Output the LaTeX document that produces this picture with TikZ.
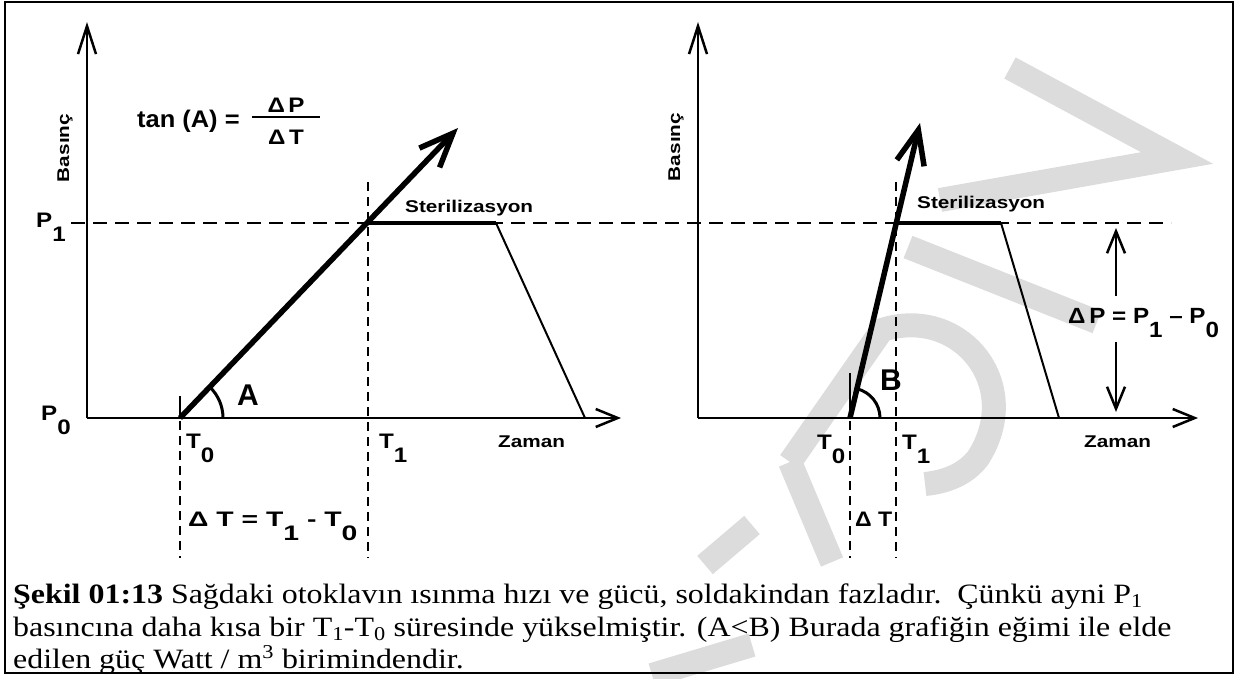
\documentclass[tikz,border=0pt]{standalone}
\usepackage{fontspec}
\setmainfont{Liberation Serif}[FakeStretch=1.14]
\newfontfamily\sansS{Liberation Sans}[FakeStretch=1.22]
\newfontfamily\sansB{Liberation Sans}[FakeStretch=1.15]
\newfontfamily\sansW{Liberation Sans}[FakeStretch=1.35]
\newfontfamily\sansF{Liberation Sans}[FakeStretch=1.06]
\newfontfamily\sansP{Liberation Sans}[FakeStretch=1.1]
\newfontfamily\sansN{Liberation Sans}
\usetikzlibrary{arrows.meta}
\definecolor{wm}{HTML}{DCDCDC}
\newcommand\lsub[1]{\raisebox{-0.68em}{#1}}
\begin{document}
\begin{tikzpicture}[x=1pt,y=-1pt,
  lab/.style={inner sep=0pt,anchor=base west},
  smalllab/.style={lab,font=\sansS\bfseries\fontsize{17}{17}\selectfont},
  biglab/.style={lab,font=\sansB\bfseries\fontsize{21}{21}\selectfont},
  anglab/.style={lab,font=\sansN\bfseries\fontsize{30}{30}\selectfont},
  axis/.style={line width=2.5pt},
  yarrow/.style={-{Straight Barb[length=28pt,width=18pt]}},
  xarrow/.style={-{Straight Barb[length=22pt,width=18pt]}},
  rise/.style={line width=5.5pt,-{Straight Barb[length=34pt,width=28pt]}},
  plateau/.style={line width=3.5pt},
  fall/.style={line width=2pt},
  pdash/.style={line width=1.4pt,dash pattern=on 14pt off 8pt},
  vdash/.style={line width=1.3pt,dash pattern=on 9pt off 6pt},
  tick/.style={line width=1.3pt},
  angarc/.style={line width=3pt},
  band/.style={wm,line width=24pt},
  capt/.style={inner sep=0pt,anchor=base west,font=\fontsize{28}{33}\selectfont}]
\useasboundingbox (0,0) rectangle (1238,679);
% watermark
\draw[band] (1010,68) -- (1177,158) -- (940,200);
\draw[band] (908,247) -- (1097,322);
\draw[band] (790,462) -- (882,330) .. controls (960,305) and (1025,385) .. (978,458) .. controls (965,475) and (945,482) .. (925,484);
\draw[band] (790,462) -- (832,562);
\draw[band] (705,565) -- (752,525);
\draw[band] (652,675) -- (752,645);
% frame
\draw[line width=2pt] (5,2) rectangle (1233,673);
% coordinates
\coordinate (OL) at (87,418);
\coordinate (YL) at (87,22);
\coordinate (XL) at (621,418);
\coordinate (OR) at (698,418);
\coordinate (YR) at (698,22);
\coordinate (XR) at (1198,418);
\coordinate (T0L) at (180,418);
\coordinate (T1L) at (368,223);
\coordinate (EL) at (496,223);
\coordinate (FL) at (585,418);
\coordinate (TipL) at (458,128);
\coordinate (T0R) at (850,418);
\coordinate (T1R) at (896,223);
\coordinate (ER) at (1001,223);
\coordinate (FR) at (1059,418);
\coordinate (TipR) at (920,123);
\coordinate (DashS) at (71,223);
\coordinate (DashE) at (1171,223);
% P1 dashed line
\draw[pdash] (DashS) -- (DashE);
% vertical dashed lines
\draw[vdash] (368,182) -- (368,558);
\draw[tick] (180,396) -- (T0L);
\draw[vdash] (180,421) -- (180,558);
\draw[vdash] (896,182) -- (896,558);
\draw[tick] (850,373) -- (T0R);
\draw[vdash] (850,421) -- (850,558);
% axes
\draw[axis,yarrow] (OL) -- (YL);
\draw[axis,xarrow] (OL) -- (XL);
\draw[axis,yarrow] (OR) -- (YR);
\draw[axis,xarrow] (OR) -- (XR);
% curves
\draw[plateau] (T1L) -- (EL);
\draw[fall] (EL) -- (FL);
\draw[plateau] (T1R) -- (ER);
\draw[fall] (ER) -- (FR);
\draw[rise] (T0L) -- (TipL);
\draw[rise] (T0R) -- (TipR);
% angle arcs
\draw[angarc] (223,418) arc[start angle=0,end angle=-46,radius=43];
\draw[angarc] (880,418) arc[start angle=0,end angle=-77,radius=30];
% delta P arrows
\coordinate (DPa) at (1116,296);
\coordinate (DPaT) at (1116,228);
\coordinate (DPb) at (1116,342);
\coordinate (DPbT) at (1116,412);
\draw[axis,xarrow] (DPa) -- (DPaT);
\draw[axis,xarrow] (DPb) -- (DPbT);
% labels left
\node[smalllab,anchor=center,rotate=90] (basL) at (65,148) {Basınç};
\node[lab,font=\sansF\bfseries\fontsize{24}{24}\selectfont] (tanA) at (137,128) {tan (A) =};
\coordinate (barS) at (252,117);
\coordinate (barE) at (320,117);
\draw[line width=2pt] (barS) -- (barE);
\node[biglab,anchor=base] (dPf) at (286,113) {Δ\,P};
\node[biglab,anchor=base] (dTf) at (286,145) {Δ\,T};
\node[biglab] (P1L) at (36,227) {P\lsub{1}};
\node[biglab] (P0L) at (41,420) {P\lsub{0}};
\node[biglab] (T0Ll) at (186,448) {T\lsub{0}};
\node[biglab] (T1Ll) at (379,448) {T\lsub{1}};
\node[anglab] (AL) at (237,405) {A};
\node[smalllab] (sterL) at (405,212) {Sterilizasyon};
\node[smalllab] (zamL) at (498,447) {Zaman};
\node[biglab,font=\sansW\bfseries\fontsize{21}{21}\selectfont] (dTL) at (188,526) {Δ T = T\lsub{1} - T\lsub{0}};
% labels right
\node[smalllab,anchor=center,rotate=90] (basR) at (676,147) {Basınç};
\node[smalllab] (sterR) at (917,208) {Sterilizasyon};
\node[smalllab] (zamR) at (1084,447) {Zaman};
\node[biglab] (T0Rl) at (817,449) {T\lsub{0}};
\node[biglab] (T1Rl) at (902,449) {T\lsub{1}};
\node[anglab] (BR) at (880,390) {B};
\node[biglab,font=\sansP\bfseries\fontsize{21}{21}\selectfont] (dTR) at (855,526) {Δ T};
\node[lab,font=\sansP\bfseries\fontsize{22}{22}\selectfont] (dPR) at (1068,323) {Δ\,P = P\lsub{1} – P\lsub{0}};
% caption
\node[capt] (c1) at (13,603) {\textbf{Şekil 01:13} Sağdaki otoklavın ısınma hızı ve gücü, soldakindan fazladır.\ \ Çünkü ayni P\textsubscript{1}};
\node[capt] (c2) at (13,636) {basıncına daha kısa bir T\textsubscript{1}-T\textsubscript{0} süresinde yükselmiştir. (A<B) Burada grafiğin eğimi ile elde};
\node[capt] (c3) at (13,668) {edilen güç Watt / m\textsuperscript{3} birimindendir.};
\end{tikzpicture}
\end{document}
